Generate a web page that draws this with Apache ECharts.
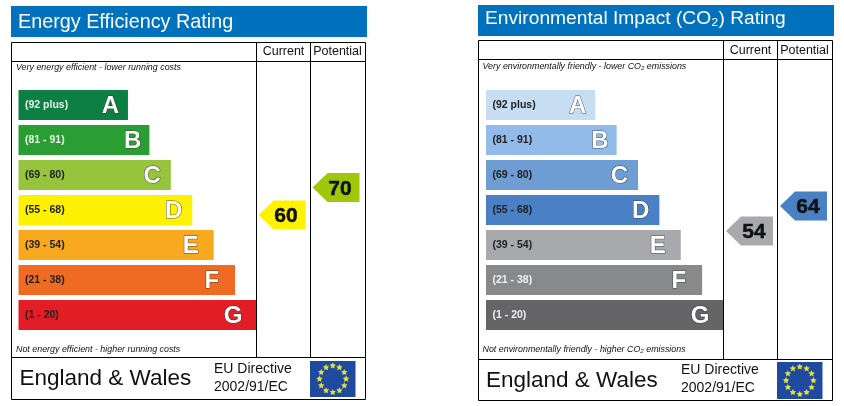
<!DOCTYPE html>
<html><head><meta charset="utf-8">
<style>html,body{margin:0;padding:0;background:#fff}#c{width:844px;height:406px}</style>
<script src="https://cdn.jsdelivr.net/npm/echarts@6/dist/echarts.min.js"></script>
</head><body><div id="c"></div>
<script>
const bands = ['A','B','C','D','E','F','G'];
const ranges = ['(92 plus)','(81 - 91)','(69 - 80)','(55 - 68)','(39 - 54)','(21 - 38)','(1 - 20)'];
const barLengths = [46,55,64,73,82,91,100];
const columns = ['Current','Potential'];
const energyScores = [60,70];
const co2Scores = [54,64];
const energyColors = ['#0e7f42','#2a9e33','#96c43d','#fff200','#f9a91e','#ef6b24','#e31d25'];
const co2Colors = ['#c7ddf2','#93bbe9','#6d9dd3','#4a80c4','#a7a9ac','#88898b','#656567'];
const energyLabelColors = ['#e8f3ea','#e8f3ea','#222','#222','#222','#222','#222'];
const co2LabelColors = ['#222','#222','#222','#222','#222','#f0f0f0','#f0f0f0'];
const energyArrowColors = ['#fff200','#a0c80a'];
const co2ArrowColors = ['#a7a9ac','#4a80c4'];
const FONT = '"Liberation Sans", Arial, sans-serif';
const ARROW = 'path://M0 50 L32 0 L100 0 L100 100 L32 100 Z';
const LETTER_INSET = [9,8,10,10,15,16,14];

const panels = [
  {title:'Energy Efficiency Rating', titleSize:19.8, titleX:18, titleY:23, titleW:356, barL:11, barT:6, barH:31,
   fL:11.5, fR:365.5, fT:42.5, fB:399.5, hdr:61.5, foot:357.5, c1:256.5, c2:310.5, hdrGap:3,
   gridL:18.5, gridW:238, top:87.5, scores:energyScores, colors:energyColors, lab:energyLabelColors, arrows:energyArrowColors,
   yMin:8.18, yMax:115.82, off:-1.5, noteTop:'Very energy efficient - lower running costs', noteBot:'Not energy efficient - higher running costs',
   noteX:16, noteTY:68, noteBY:350, engX:19.5, engY:378.5, euX:214, euY1:369, euY2:387, flX:310, flY:361, flW:45.5, flH:36},
  {title:'Environmental Impact (CO₂) Rating', titleSize:19.2, titleX:485, titleY:18.5, titleW:356, barL:478, barT:5, barH:31,
   fL:478.5, fR:832.5, fT:40.5, fB:400.5, hdr:59.5, foot:359.5, c1:723.5, c2:777.5, hdrGap:2,
   gridL:486, gridW:237.5, top:87.5, scores:co2Scores, colors:co2Colors, lab:co2LabelColors, arrows:co2ArrowColors,
   yMin:2.68, yMax:122.6, off:-1, noteTop:'Very environmentally friendly - lower CO₂ emissions', noteBot:'Not environmentally friendly - higher CO₂ emissions',
   noteX:482.5, noteTY:67, noteBY:350, engX:486, engY:380.5, euX:681, euY1:370, euY2:388, flX:777, flY:362, flW:45.5, flH:37}
];

const grid=[], xAxis=[], yAxis=[], series=[], graphic=[];
function line(x1,y1,x2,y2){return {type:'line',silent:true,z:5,shape:{x1,y1,x2,y2},style:{stroke:'#000',lineWidth:1}};}
function txt(text,x,y,font,fill,extra){return Object.assign({type:'text',silent:true,z:6,x,y,style:{text,font,fill:fill||'#000',textVerticalAlign:'middle'}},extra||{});}

panels.forEach(p=>{
  const g=grid.length;
  grid.push({left:p.gridL,width:p.gridW,top:p.top,height:245});
  xAxis.push({gridIndex:g,type:'value',min:0,max:100,show:false});
  yAxis.push({gridIndex:g,type:'category',data:bands,inverse:true,show:false});
  grid.push({left:p.c1,width:108,top:p.hdr,height:p.foot-p.hdr});
  xAxis.push({gridIndex:g+1,type:'category',data:columns,position:'top',
    axisLine:{show:false},axisTick:{show:false},
    axisLabel:{color:'#111',fontFamily:FONT,fontSize:12.5,margin:p.hdrGap,interval:0}});
  yAxis.push({gridIndex:g+1,type:'value',min:p.yMin,max:p.yMax,show:false});

  series.push({type:'bar',xAxisIndex:g,yAxisIndex:g,barWidth:30,barGap:'-100%',silent:true,animation:false,
    data:barLengths.map((v,i)=>({value:v,itemStyle:{color:p.colors[i]},
      label:{color:p.lab[i]}})),
    label:{show:true,position:'insideLeft',distance:6.5,formatter:o=>ranges[o.dataIndex],fontFamily:FONT,fontWeight:'bold',fontSize:10.5}});
  series.push({type:'bar',xAxisIndex:g,yAxisIndex:g,barWidth:30,barGap:'-100%',silent:true,animation:false,z:3,
    itemStyle:{color:'transparent'},
    data:barLengths.map((v,i)=>({value:v,label:{distance:LETTER_INSET[i]}})),
    label:{show:true,position:'insideRight',offset:[0,1.5],formatter:o=>bands[o.dataIndex],fontFamily:FONT,fontWeight:'bold',fontSize:24,
      color:'#fff',textBorderColor:'rgba(50,50,50,0.8)',textBorderWidth:1}});
  series.push({type:'scatter',xAxisIndex:g+1,yAxisIndex:g+1,silent:true,animation:false,z:4,
    symbol:ARROW,symbolSize:[47,29],symbolOffset:[p.off,0],
    data:p.scores.map((v,i)=>({value:[columns[i],v],itemStyle:{color:p.arrows[i],opacity:1}})),
    label:{show:true,position:'inside',offset:[p.off+5.5,1.5],formatter:o=>o.value[1],fontFamily:FONT,fontWeight:'bold',fontSize:21,color:'#111',textBorderColor:'#111',textBorderWidth:0.5}});

  graphic.push({type:'rect',silent:true,z:1,shape:{x:p.barL,y:p.barT,width:p.titleW,height:p.barH},style:{fill:'#0071bc'}});
  graphic.push(txt(p.title,p.titleX,p.titleY,p.titleSize+'px '+FONT,'#fff'));
  graphic.push({type:'rect',silent:true,z:5,shape:{x:p.fL,y:p.fT,width:p.fR-p.fL,height:p.fB-p.fT},style:{fill:'none',stroke:'#000',lineWidth:1}});
  graphic.push(line(p.fL,p.hdr,p.fR,p.hdr),line(p.fL,p.foot,p.fR,p.foot),line(p.c1,p.fT,p.c1,p.foot),line(p.c2,p.fT,p.c2,p.foot));
  graphic.push(txt(p.noteTop,p.noteX,p.noteTY,'italic 8.9px '+FONT,'#111'));
  graphic.push(txt(p.noteBot,p.noteX,p.noteBY,'italic 8.9px '+FONT,'#111'));
  graphic.push(txt('England & Wales',p.engX,p.engY,'22.5px '+FONT,'#111'));
  graphic.push(txt('EU Directive',p.euX,p.euY1,'14px '+FONT,'#111'));
  graphic.push(txt('2002/91/EC',p.euX,p.euY2,'14px '+FONT,'#111'));
  graphic.push({type:'rect',silent:true,z:6,shape:{x:p.flX,y:p.flY,width:p.flW,height:p.flH},style:{fill:'#1f4aa0'}});
  const cx=p.flX+p.flW/2, cy=p.flY+p.flH/2, R=p.flH*0.37;
  for(let k=0;k<12;k++){
    const a=k*Math.PI/6;
    graphic.push({type:'polygon',silent:true,z:7,x:cx+R*Math.sin(a),y:cy-R*Math.cos(a),
      shape:{points:[0,1,2,3,4,5,6,7,8,9].map(j=>{const r=j%2?1.7:3.4,b=j*Math.PI/5;return [r*Math.sin(b),-r*Math.cos(b)];})},
      style:{fill:'#dfe03a'}});
  }
});

const chart=echarts.init(document.getElementById('c'),null,{renderer:'canvas'});
chart.setOption({backgroundColor:'#fff',animation:false,grid,xAxis,yAxis,series,graphic:{elements:graphic},tooltip:{show:false},legend:{show:false}});
</script></body></html>
